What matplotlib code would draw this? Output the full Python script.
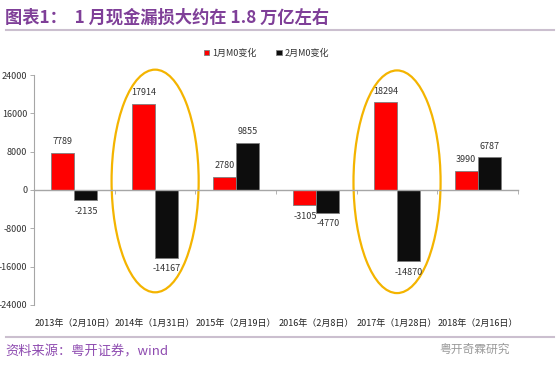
import matplotlib
matplotlib.use('Agg')
from matplotlib import pyplot as plt
from matplotlib.patches import Ellipse
from matplotlib.lines import Line2D
import numpy as np

plt.rcParams['font.family'] = ['Noto Sans CJK SC', 'DejaVu Sans']

# data
categories = ['2013年（2月10日）', '2014年（1月31日）', '2015年（2月19日）',
              '2016年（2月8日）', '2017年（1月28日）', '2018年（2月16日）']
jan_m0 = [7789, 17914, 2780, -3105, 18294, 3990]
feb_m0 = [-2135, -14167, 9855, -4770, -14870, 6787]
series_names = ['1月M0变化', '2月M0变化']
yticks = [-24000, -16000, -8000, 0, 8000, 16000, 24000]
highlight = [1, 4]  # groups circled in the chart

fig = plt.figure(figsize=(5.6, 3.66), dpi=100)
ax = fig.add_axes([0.061, 0.167, 0.864, 0.628])

x = np.arange(len(categories))
w = 0.285
b1 = ax.bar(x - w / 2, jan_m0, w, color='#FF0000', edgecolor='#7f7f7f', linewidth=0.6, label=series_names[0])
b2 = ax.bar(x + w / 2, feb_m0, w, color='#0D0D0D', edgecolor='#7f7f7f', linewidth=0.6, label=series_names[1])

# value labels
for bars, vals in [(b1, jan_m0), (b2, feb_m0)]:
    for bar, v in zip(bars, vals):
        cx = bar.get_x() + bar.get_width() / 2
        if v >= 0:
            ax.text(cx, v + 1400, str(v), ha='center', va='bottom', fontsize=6.5, color='#333333')
        else:
            ax.text(cx, v - 1400, str(v), ha='center', va='top', fontsize=6.5, color='#333333')

ax.set_xlim(-0.5, len(categories) - 0.5)
ax.set_ylim(-24000, 24000)
ax.set_yticks(yticks)
ax.set_yticklabels([str(t) for t in yticks], fontsize=6.5, color='#333333')
ax.tick_params(axis='y', length=3, width=0.6, color='#a0a0a0', pad=2)

# category axis crossing at zero with ticks at category boundaries
ax.spines['bottom'].set_position(('data', 0))
ax.spines['bottom'].set_color('#a6a6a6')
ax.spines['bottom'].set_linewidth(1.0)
ax.spines['left'].set_color('#a6a6a6')
ax.spines['left'].set_linewidth(0.8)
ax.spines['top'].set_visible(False)
ax.spines['right'].set_visible(False)
ax.set_xticks(np.arange(len(categories) + 1) - 0.5)
ax.set_xticklabels([])
ax.tick_params(axis='x', length=3, width=0.6, color='#a6a6a6', direction='out')

trans = ax.get_xaxis_transform()
for i, c in enumerate(categories):
    ax.text(i, -0.06, c, transform=trans, ha='center', va='top', fontsize=6.5, color='#222222')

# highlight ellipses
for i in highlight:
    mid = (jan_m0[i] + feb_m0[i]) / 2
    e = Ellipse((i, mid), 1.08, 46500, fill=False, edgecolor='#F4B400', linewidth=1.6, clip_on=False)
    ax.add_patch(e)

leg = ax.legend(loc='center', bbox_to_anchor=(0.48, 1.095), ncol=2, frameon=False,
                fontsize=6.5, handlelength=0.6, handleheight=0.6, handletextpad=0.3,
                columnspacing=2.2, borderpad=0)
for t in leg.get_texts():
    t.set_color('#333333')

# header / footer
fig.text(0.009, 0.951, '图表1：  1 月现金漏损大约在 1.8 万亿左右', fontsize=12.4, fontweight='bold',
         color='#7F3F98', ha='left', va='center')
fig.add_artist(Line2D([0.01, 0.99], [0.918, 0.918], color='#CBBFCF', linewidth=1.5))
fig.add_artist(Line2D([0.01, 0.99], [0.079, 0.079], color='#CBBFCF', linewidth=1.5))
fig.text(0.009, 0.038, '资料来源：粤开证券，wind', fontsize=9.5, style='italic',
         color='#8E4BB0', ha='left', va='center')
fig.text(0.91, 0.045, '粤开奇霖研究', fontsize=8.5, color='#9a9a9a', ha='right', va='center')

fig.savefig('out.png', dpi=100)
